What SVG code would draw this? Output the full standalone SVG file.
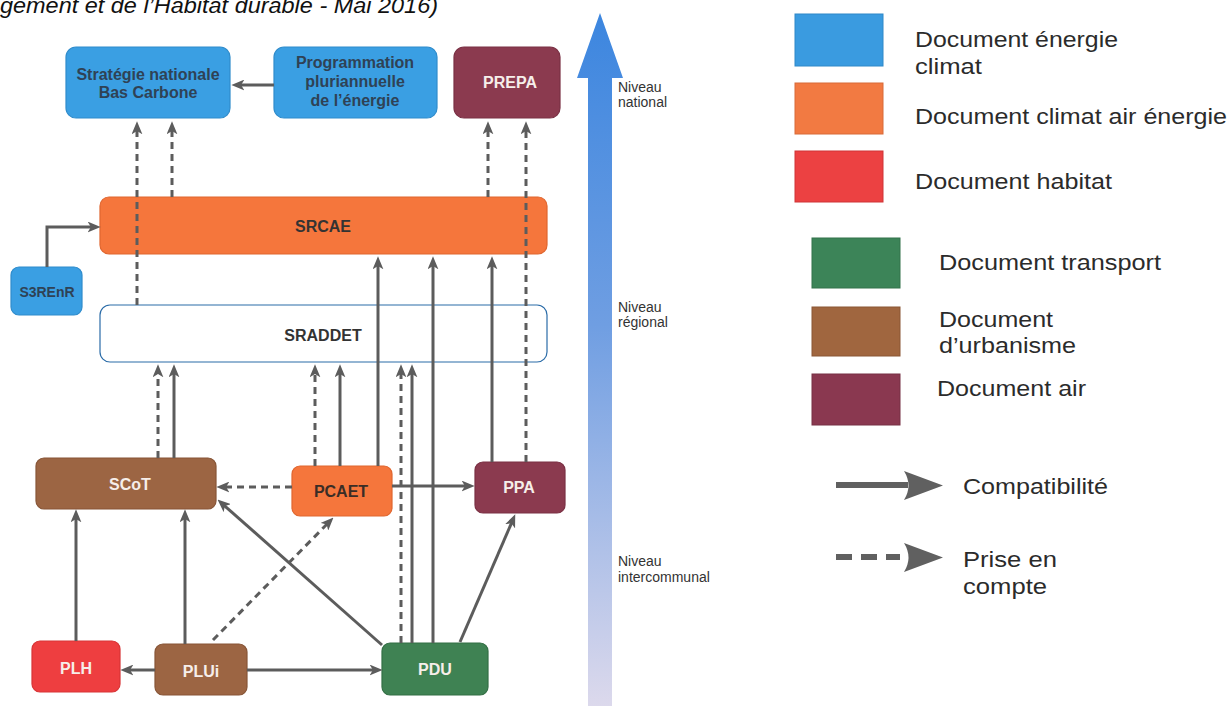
<svg xmlns="http://www.w3.org/2000/svg" width="1231" height="706" viewBox="0 0 1231 706">
<defs>
<linearGradient id="gArrow" x1="0" y1="0" x2="0" y2="1">
<stop offset="0" stop-color="#3c86df"/>
<stop offset="0.45" stop-color="#6f9ee2"/>
<stop offset="1" stop-color="#dcd9ec"/>
</linearGradient>
<marker id="ah" viewBox="0 0 12 10" refX="4" refY="5" markerWidth="13" markerHeight="11" markerUnits="userSpaceOnUse" orient="auto">
<path d="M0,0 L12,5 L0,10 L3,5 Z" fill="#5c5c5c"/>
</marker>
<style>
.node rect{stroke-width:1.2}
.blue{fill:#3a9fe3;stroke:#2f8ccc}
.orange{fill:#f5763c;stroke:#e0662f}
.maroon{fill:#8b3a4f;stroke:#7a3044}
.red{fill:#ee3e40;stroke:#d83436}
.brown{fill:#9c6543;stroke:#875537}
.green{fill:#3f8253;stroke:#336f45}
.t{font-family:"Liberation Sans",Arial,sans-serif;font-weight:bold;font-size:16px;text-anchor:middle}
.tb{fill:#2f4255}
.td{fill:#333333}
.tw{fill:#f6eeea}
.c{fill:none;stroke:#5c5c5c;stroke-width:3;marker-end:url(#ah)}
.d{stroke-dasharray:7 5}
.lv{font-family:"Liberation Sans",Arial,sans-serif;font-size:14px;fill:#333}
.lg{font-family:"Liberation Sans",Arial,sans-serif;font-size:22px;fill:#2b2b2b}
</style>
</defs>
<rect width="1231" height="706" fill="#ffffff"/>
<text x="0" y="13" font-family="'Liberation Sans',Arial,sans-serif" font-style="italic" font-size="22" fill="#111" textLength="438" lengthAdjust="spacingAndGlyphs">gement et de l’Habitat durable - Mai 2016)</text>

<g id="level-arrow">
<polygon points="600,13 623,78 612,78 612,706 588,706 588,78 577,78" fill="url(#gArrow)"/>
<text class="lv" x="618" y="92">Niveau</text>
<text class="lv" x="618" y="107">national</text>
<text class="lv" x="618" y="312">Niveau</text>
<text class="lv" x="618" y="327">régional</text>
<text class="lv" x="618" y="566">Niveau</text>
<text class="lv" x="618" y="582">intercommunal</text>
</g>

<g id="n-snbc" class="node"><rect class="blue" x="66" y="47" width="164" height="71" rx="10"/>
<text class="t tb" x="148" y="80">Stratégie nationale</text><text class="t tb" x="148" y="98">Bas Carbone</text></g>
<g id="n-ppe" class="node"><rect class="blue" x="274" y="47" width="163" height="71" rx="10"/>
<text class="t tb" x="355" y="68">Programmation</text><text class="t tb" x="355" y="87">pluriannuelle</text><text class="t tb" x="355" y="106">de l’énergie</text></g>
<g id="n-prepa" class="node"><rect class="maroon" x="454" y="47" width="106" height="71" rx="10"/>
<text class="t tw" x="510" y="88">PREPA</text></g>
<g id="n-srcae" class="node"><rect class="orange" x="100" y="197" width="447" height="57" rx="9"/>
<text class="t td" x="323" y="232">SRCAE</text></g>
<g id="n-s3renr" class="node"><rect class="blue" x="11" y="267" width="71" height="48" rx="8"/>
<text class="t tb" x="47" y="297" style="font-size:14px">S3REnR</text></g>
<g id="n-sraddet" class="node"><rect x="100" y="305" width="447" height="57" rx="10" fill="#ffffff" stroke="#2b6ca8" stroke-width="2"/>
<text class="t td" x="323" y="341">SRADDET</text></g>
<g id="n-scot" class="node"><rect class="brown" x="36" y="458" width="180" height="51" rx="8"/>
<text class="t tw" x="130" y="490">SCoT</text></g>
<g id="n-pcaet" class="node"><rect class="orange" x="292" y="466" width="100" height="50" rx="8"/>
<text class="t" x="341" y="497" fill="#3a2d26">PCAET</text></g>
<g id="n-ppa" class="node"><rect class="maroon" x="475" y="462" width="90" height="51" rx="8"/>
<text class="t tw" x="519" y="493">PPA</text></g>
<g id="n-plh" class="node"><rect class="red" x="32" y="641" width="88" height="51" rx="8"/>
<text class="t tw" x="76" y="674">PLH</text></g>
<g id="n-plui" class="node"><rect class="brown" x="155" y="644" width="92" height="51" rx="8"/>
<text class="t tw" x="201" y="677">PLUi</text></g>
<g id="n-pdu" class="node"><rect class="green" x="382" y="643" width="106" height="52" rx="8"/>
<text class="t tw" x="435" y="675">PDU</text></g>

<g id="connectors">
<path class="c" d="M274,85 H240"/>
<path class="c d" d="M137,305 V130"/>
<path class="c d" d="M172,197 V130"/>
<path class="c d" d="M488,197 V130"/>
<path class="c d" d="M526,462 V130"/>
<path class="c" d="M47,267 V227 H92"/>
<path class="c" d="M378,466 V265"/>
<path class="c" d="M433,643 V265"/>
<path class="c" d="M492,462 V265"/>
<path class="c d" d="M158,458 V373"/>
<path class="c" d="M174,458 V373"/>
<path class="c d" d="M315,466 V373"/>
<path class="c" d="M340,466 V373"/>
<path class="c d" d="M401,643 V373"/>
<path class="c" d="M412,643 V373"/>
<path class="c d" d="M292,487 H225"/>
<path class="c" d="M392,486 H466"/>
<path class="c" d="M76,641 V518"/>
<path class="c" d="M185,644 V518"/>
<path class="c" d="M155,670 H129"/>
<path class="c" d="M247,670 H374"/>
<path class="c d" d="M213,640 L327.4,523.7"/>
<path class="c" d="M382,645 L224,505.3"/>
<path class="c" d="M460,642 L511.8,522.3"/>
</g>

<g id="legend">
<rect x="795" y="14" width="88" height="52" fill="#3a9be0" stroke="#2f88c8"/>
<text class="lg" x="915" y="47" textLength="203" lengthAdjust="spacingAndGlyphs">Document énergie</text>
<text class="lg" x="915" y="74" textLength="67" lengthAdjust="spacingAndGlyphs">climat</text>
<rect x="795" y="83" width="88" height="51" fill="#f27a42" stroke="#d86a38"/>
<text class="lg" x="915" y="124" textLength="312" lengthAdjust="spacingAndGlyphs">Document climat air énergie</text>
<rect x="795" y="151" width="88" height="51" fill="#ec4142" stroke="#cf3536"/>
<text class="lg" x="915" y="189" textLength="197" lengthAdjust="spacingAndGlyphs">Document habitat</text>
<rect x="812" y="238" width="88" height="50" fill="#3c8458" stroke="#33724b"/>
<text class="lg" x="939" y="270" textLength="222" lengthAdjust="spacingAndGlyphs">Document transport</text>
<rect x="812" y="307" width="88" height="49" fill="#a0663f" stroke="#8a5634"/>
<text class="lg" x="939" y="327" textLength="114" lengthAdjust="spacingAndGlyphs">Document</text>
<text class="lg" x="939" y="353" textLength="137" lengthAdjust="spacingAndGlyphs">d’urbanisme</text>
<rect x="812" y="374" width="88" height="51" fill="#8a3850" stroke="#763045"/>
<text class="lg" x="937" y="396" textLength="149" lengthAdjust="spacingAndGlyphs">Document air</text>
<line x1="836" y1="485" x2="908" y2="485" stroke="#606060" stroke-width="6"/>
<path d="M904,471 L943,485.5 L904,500 Q913,485.5 904,471 Z" fill="#606060"/>
<text class="lg" x="963" y="494" textLength="145" lengthAdjust="spacingAndGlyphs">Compatibilité</text>
<line x1="836" y1="557" x2="900" y2="557" stroke="#606060" stroke-width="6" stroke-dasharray="16 9"/>
<path d="M904,543 L943,557.5 L904,572 Q913,557.5 904,543 Z" fill="#606060"/>
<text class="lg" x="963" y="567" textLength="94" lengthAdjust="spacingAndGlyphs">Prise en</text>
<text class="lg" x="963" y="594" textLength="84" lengthAdjust="spacingAndGlyphs">compte</text>
</g>
</svg>
